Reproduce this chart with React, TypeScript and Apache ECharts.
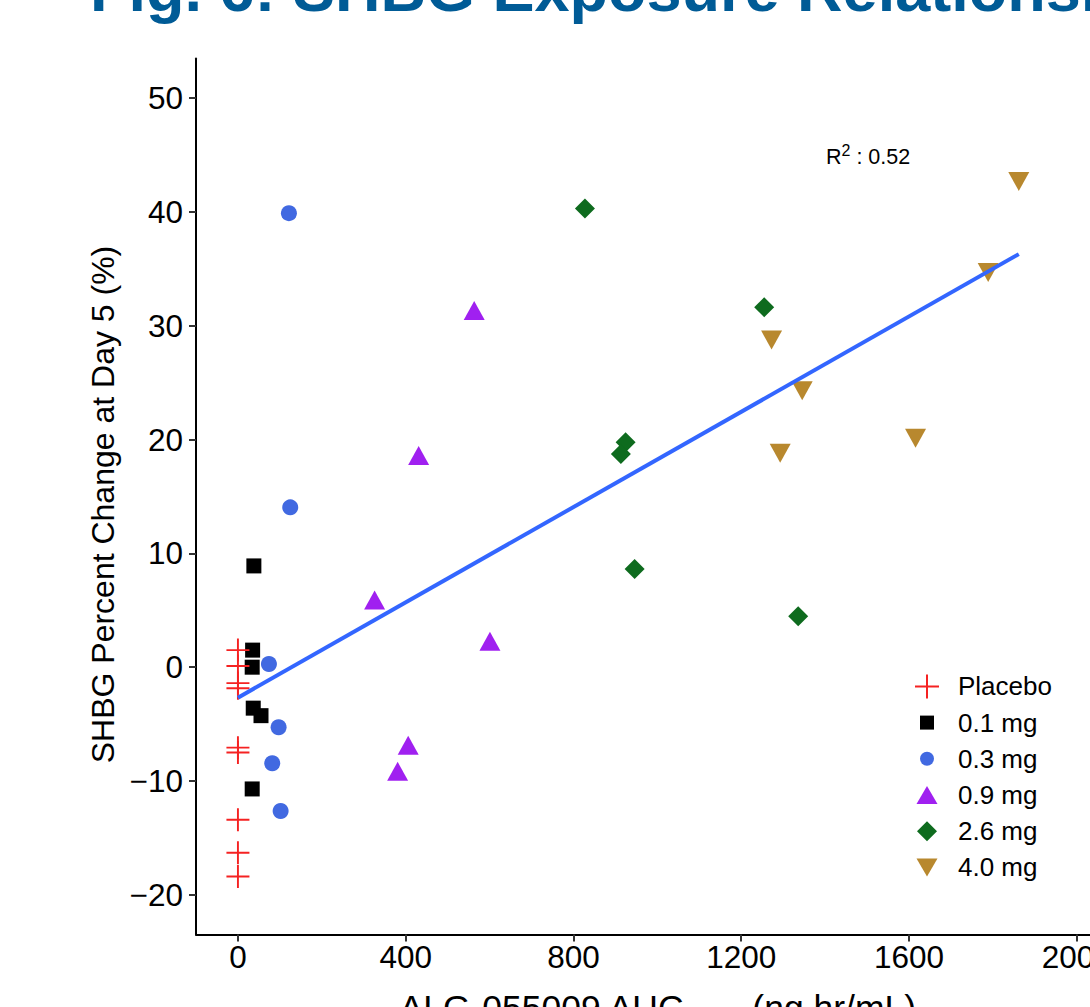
import React, { useEffect, useRef } from "react";
import * as echarts from "echarts";

// ---------- data ----------
const xTicks = [0, 400, 800, 1200, 1600, 2000];
const yTicks = [-20, -10, 0, 10, 20, 30, 40, 50];
const groupNames = ["Placebo", "0.1 mg", "0.3 mg", "0.9 mg", "2.6 mg", "4.0 mg"];

const placebo = [
  [0, 1.5], [0, 0.1], [0, -1.4], [0, -1.85], [0, -7.07],
  [0, -7.5], [0, -13.4], [0, -16.3], [0, -18.4],
];
const dose01 = [[38, 8.9], [35, 1.5], [34, 0.0], [36.5, -3.6], [55, -4.26], [34, -10.7]];
const dose03 = [[121.6, 39.9], [124.7, 14.05], [73.9, 0.28], [97, -5.28], [81.8, -8.44], [101.8, -12.64]];
const dose09 = [[563.4, 31.06], [430.9, 18.32], [325.9, 5.62], [600.9, 1.99], [406, -7.14], [380.8, -9.43]];
const dose26 = [[827.4, 40.32], [1254.9, 31.63], [924.4, 19.76], [913.2, 18.73], [945.9, 8.63], [1336, 4.47]];
const dose40 = [[1272.5, 29.03], [1345.5, 24.58], [1293, 19.09], [1862, 42.97], [1789, 34.96], [1615.8, 20.4]];
const fitLine = [[0, -2.68], [1862, 36.3]];
const r2Label = "0.52";

const FONT = '"Liberation Sans", Arial, Helvetica, sans-serif';
const OFF = 60; // chart div is shifted up by this many px

const plusPath =
  "path://M-1,-12L1,-12L1,-1L12,-1L12,1L1,1L1,12L-1,12L-1,1L-12,1L-12,-1L-1,-1Z";
const box = "M-12,-12L-12,-12M12,12L12,12";
const legendIcons = [
  plusPath,
  "path://" + box + "M-7,-7L7,-7L7,7L-7,7Z",
  "path://" + box + "M-7,0A7,7,0,1,1,7,0A7,7,0,1,1,-7,0Z",
  "path://" + box + "M0,-9L10.5,9L-10.5,9Z",
  "path://" + box + "M0,-10L10,0L0,10L-10,0Z",
  "path://" + box + "M-10.5,-9L10.5,-9L0,9Z",
];

const negFmt = (v: number) => (v < 0 ? "\u2212" + Math.abs(v) : String(v));

export default function App() {
  const ref = useRef<HTMLDivElement>(null);
  useEffect(() => {
    if (!ref.current) return;
    const chart = echarts.init(ref.current, null, { renderer: "svg" });
    const scatter = (
      name: string,
      data: number[][],
      color: string,
      symbol: string,
      size: number | number[],
      offset: number[] = [0, 0],
      z = 2
    ) => ({
      type: "scatter",
      name,
      data,
      symbol,
      symbolSize: size,
      symbolOffset: offset,
      z,
      itemStyle: { color, opacity: 1 },
      emphasis: { disabled: true },
    });
    chart.setOption({
      animation: false,
      backgroundColor: "#fff",
      textStyle: { fontFamily: FONT },
      grid: { left: 196, top: 58.4 + OFF, width: 922.6, height: 876.2 },
      xAxis: {
        type: "value",
        min: -100,
        max: 2100,
        splitLine: { show: false },
        axisLine: { show: true, onZero: false, lineStyle: { color: "#000", width: 2 } },
        axisTick: { show: true, length: 7, customValues: xTicks, lineStyle: { color: "#333", width: 2 } },
        axisLabel: {
          customValues: xTicks,
          fontSize: 31.5,
          color: "#000",
          margin: 6,
          fontFamily: FONT,
          formatter: (v: number) => String(v),
        },
        name: "{a|ALG-055009 AUC}{s|0-24}{a|  (ng.hr/mL)}",
        nameLocation: "middle",
        nameGap: 53,
        nameTextStyle: {
          fontSize: 35.5,
          color: "#000",
          fontFamily: FONT,
          rich: {
            a: { fontSize: 35.5, color: "#000", fontFamily: FONT, lineHeight: 40 },
            s: { fontSize: 24, color: "#000", fontFamily: FONT, lineHeight: 24, verticalAlign: "bottom" },
          },
        },
      },
      yAxis: {
        type: "value",
        min: -23.5,
        max: 53.5,
        splitLine: { show: false },
        axisLine: { show: true, onZero: false, lineStyle: { color: "#000", width: 2 } },
        axisTick: { show: true, length: 7, customValues: yTicks, lineStyle: { color: "#333", width: 2 } },
        axisLabel: {
          customValues: yTicks,
          fontSize: 31.5,
          color: "#000",
          margin: 13,
          fontFamily: FONT,
          formatter: negFmt,
        },
        name: "SHBG Percent Change at Day 5 (%)",
        nameLocation: "middle",
        nameGap: 69,
        nameTextStyle: {
          fontSize: 32,
          color: "#000",
          fontFamily: FONT,
          lineHeight: 32,
          padding: [0, 16, 0, 0],
        },
      },
      legend: {
        orient: "vertical",
        left: 910,
        top: 668.4 + OFF,
        itemWidth: 24,
        itemHeight: 24,
        itemGap: 10.2,
        selectedMode: false,
        textStyle: {
          fontSize: 26,
          lineHeight: 24,
          color: "#000",
          fontFamily: FONT,
          padding: [0, 0, 0, 14],
        },
        data: groupNames.map((n, i) => ({ name: n, icon: legendIcons[i] })),
      },
      graphic: [
        {
          type: "text",
          x: 90,
          y: 49,
          style: {
            text: "Fig. 6: SHBG Exposure Relationship",
            fontSize: 63,
            fontWeight: "bold",
            fontFamily: FONT,
            fill: "#005B96",
            verticalAlign: "middle",
          },
        },
        {
          type: "text",
          x: 826,
          y: 156.5 + OFF,
          style: {
            text: "{a|R}{b|2}{a| : " + r2Label + "}",
            verticalAlign: "middle",
            rich: {
              a: { fontSize: 21.5, fontFamily: FONT, fill: "#000", lineHeight: 28 },
              b: { fontSize: 16, fontFamily: FONT, fill: "#000", lineHeight: 16, verticalAlign: "top" },
            },
          },
        },
      ],
      series: [
        scatter(groupNames[1], dose01, "#000000", "rect", 15),
        scatter(groupNames[2], dose03, "#4169E1", "circle", 16),
        scatter(groupNames[3], dose09, "#A020F0", "triangle", [21, 19], [0, -3.2]),
        scatter(groupNames[4], dose26, "#0E6B1E", "diamond", 20),
        scatter(groupNames[5], dose40, "#B8882E", "path://M-10.5,-9L10.5,-9L0,9Z", [21, 19], [0, 3.2]),
        scatter(groupNames[0], placebo, "#F52222", plusPath, 23, [0, 0], 3),
        {
          type: "line",
          name: "fit",
          data: fitLine,
          showSymbol: false,
          symbol: "none",
          z: 4,
          lineStyle: { color: "#3366FF", width: 4, cap: "butt" },
          emphasis: { disabled: true },
        },
      ],
    });
    return () => chart.dispose();
  }, []);
  return (
    <div
      style={{
        position: "fixed",
        left: 0,
        top: 0,
        width: 1090,
        height: 1007,
        overflow: "hidden",
        background: "#fff",
      }}
    >
      <div
        ref={ref}
        style={{ position: "absolute", left: 0, top: -OFF, width: 1200, height: 1120 }}
      />
    </div>
  );
}
